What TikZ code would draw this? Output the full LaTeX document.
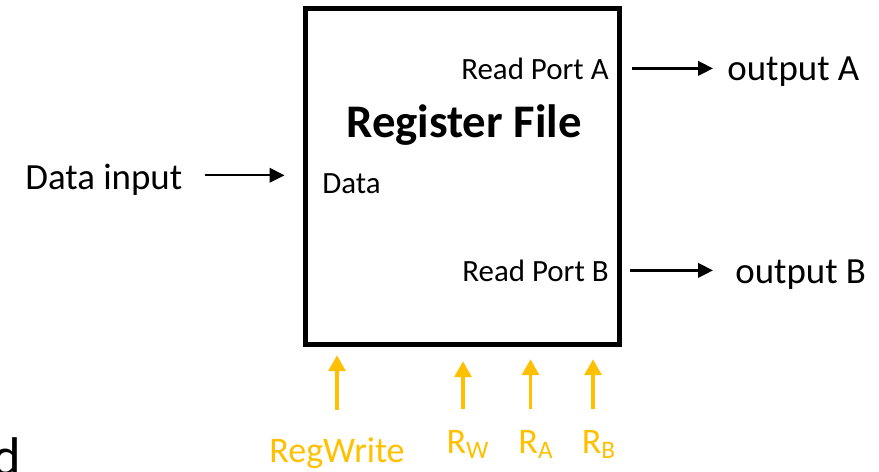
\documentclass[tikz,border=0pt]{standalone}
\usepackage{fontspec}
\setmainfont{Carlito}
\usepackage{xcolor}
\usepackage{tikz}
\usetikzlibrary{arrows.meta,positioning}
\definecolor{ctlgold}{RGB}{255,192,0}

\begin{document}
\begin{tikzpicture}[
                    x=0.02cm, y=-0.02cm,
                    regbox/.style={draw, line width=2.85pt, minimum width=6.28cm, minimum height=6.73cm, inner sep=0pt},
                    title/.style={font=\fontsize{26.6}{30}\selectfont\bfseries, inner sep=0pt},
                    port/.style={font=\fontsize{17.6}{20}\selectfont, inner sep=0pt},
                    io/.style={font=\fontsize{21}{24}\selectfont, inner sep=0pt},
                    ctl/.style={font=\fontsize{20.5}{24}\selectfont, text=ctlgold, inner sep=0pt},
                    rel/.style={-{Triangle[length=3mm, width=2.9mm]}, line width=1.3pt},
                    sig/.style={-{Triangle[length=3.2mm, width=3.4mm]}, line width=1.9pt, draw=ctlgold}
                ]
                    \useasboundingbox (0,0) rectangle (879,471);
                    \clip (0,0) rectangle (879,471);

                    % Register file block
                    \node[regbox] (rf) at (462.5,176.5) {};
                    \node[title, anchor=base] (rftitle) at (464,137) {Register File};
                    \node[port, anchor=base east] (rpa) at (609,79) {Read Port A};
                    \node[port, anchor=base east] (rpb) at (609,281) {Read Port B};
                    \node[port, anchor=base west] (dport) at (322,193) {Data};

                    % Inputs and outputs
                    \node[io, anchor=base west] (din) at (25,189) {Data input};
                    \node[io, anchor=base west] (outa) at (727,80) {output A};
                    \node[io, anchor=base west] (outb) at (735,283) {output B};

                    % Control signals
                    \node[ctl, anchor=base] (regw) at (337,462) {RegWrite};
                    \node[ctl, anchor=base] (rw) at (468,453) {R\textsubscript{W}};
                    \node[ctl, anchor=base] (ra) at (536,453) {R\textsubscript{A}};
                    \node[ctl, anchor=base] (rb) at (599,453) {R\textsubscript{B}};

                    % cut-off letter
                    \node[font=\fontsize{31}{36}\selectfont, anchor=base west, inner sep=0pt] (cut) at (-8,475) {d};

                    % Data paths
                    \draw[rel, shorten <=0.44cm, shorten >=0.37cm] ([yshift=0.08cm]din.east) -- ([yshift=0.08cm]din.east -| rf.west);
                    \draw[rel, shorten <=0.46cm, shorten >=0.28cm] (rpa.east) -- (rpa.east -| outa.west);
                    \draw[rel, shorten <=0.42cm, shorten >=0.44cm] (rpb.east) -- (rpb.east -| outb.west);

                    % Control arrows
                    \draw[sig, shorten <=0.54cm, shorten >=0.16cm] (regw.north) -- (regw.north |- rf.south);
                    \draw[sig, shorten <=0.42cm, shorten >=0.28cm] ([xshift=-0.1cm]rw.north) -- ([xshift=-0.1cm]rw.north |- rf.south);
                    \draw[sig, shorten <=0.42cm, shorten >=0.24cm] ([xshift=-0.11cm]ra.north) -- ([xshift=-0.11cm]ra.north |- rf.south);
                    \draw[sig, shorten <=0.42cm, shorten >=0.24cm] ([xshift=-0.12cm]rb.north) -- ([xshift=-0.12cm]rb.north |- rf.south);
                \end{tikzpicture}
\end{document}
